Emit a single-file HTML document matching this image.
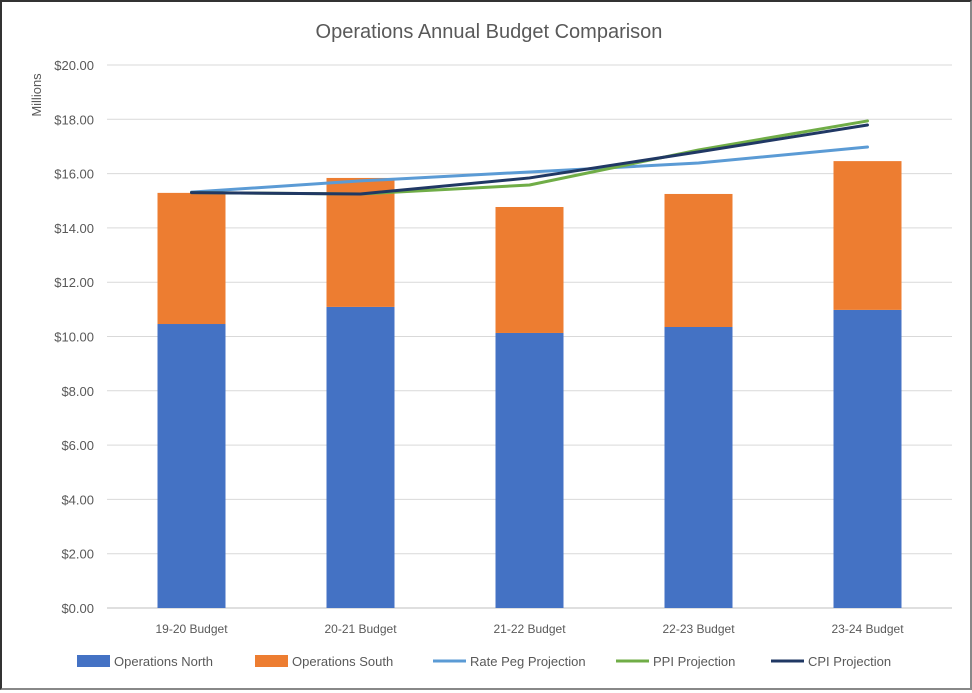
<!DOCTYPE html>
<html><head><meta charset="utf-8">
<style>
body{margin:0;background:#fff;}
#wrap{position:relative;width:972px;height:690px;box-sizing:border-box;border:2px solid #333;border-right-color:#888;border-bottom-color:#888;background:#fff;font-family:"Liberation Sans",sans-serif;}
svg text{font-family:"Liberation Sans",sans-serif;fill:#595959;}
</style></head><body>
<div id="wrap">
<svg id="chart" width="968" height="686" viewBox="2 2 968 686">
<text x="489" y="38" text-anchor="middle" font-size="20">Operations Annual Budget Comparison</text>
<text transform="translate(41,95) rotate(-90)" text-anchor="middle" font-size="13">Millions</text>
<g id="grid"></g><g id="bars"></g><g id="lines"></g><g id="legend"></g>
</svg>
</div>
<script>
const categories=["19-20 Budget","20-21 Budget","21-22 Budget","22-23 Budget","23-24 Budget"];
const north=[10.46,11.09,10.13,10.35,10.98];
const south=[4.83,4.75,4.64,4.90,5.48];
const ratePeg=[15.32,15.73,16.06,16.39,16.98];
const ppi=[15.30,15.25,15.58,16.87,17.94];
const cpi=[15.30,15.25,15.84,16.80,17.79];
const yTicks=[0,2,4,6,8,10,12,14,16,18,20];
const yTickLabels=["$0.00","$2.00","$4.00","$6.00","$8.00","$10.00","$12.00","$14.00","$16.00","$18.00","$20.00"];
const NS="http://www.w3.org/2000/svg";
const x0=107,x1=952,y0=608,y1=65;
const band=(x1-x0)/categories.length;
const xc=i=>x0+band*(i+0.5);
const y=v=>y0-(v/20)*(y0-y1);
function mk(tag,attrs,parent){const e=document.createElementNS(NS,tag);for(const k in attrs)e.setAttribute(k,attrs[k]);parent.appendChild(e);return e;}
const grid=document.getElementById('grid');
yTicks.forEach((t,i)=>{
  const l=mk('line',{x1:x0,x2:x1,y1:y(t),y2:y(t),stroke:i===0?'#bfbfbf':'#d9d9d9','stroke-width':1},grid);
  
  
  const tx=mk('text',{x:94,y:y(t)+5,'text-anchor':'end','font-size':13},grid);
  tx.textContent=yTickLabels[i];
  
  
});
const bars=document.getElementById('bars');
categories.forEach((c,i)=>{
  const w=68;
  const b1=mk('rect',{x:xc(i)-w/2,y:y(north[i]),width:w,height:y(0)-y(north[i]),fill:'#4472c4'},bars);
  
  
  const b2=mk('rect',{x:xc(i)-w/2,y:y(north[i]+south[i]),width:w,height:y(north[i])-y(north[i]+south[i]),fill:'#ed7d31'},bars);
  
  
  const tx=mk('text',{x:xc(i),y:633,'text-anchor':'middle','font-size':12},bars);
  tx.textContent=c;
  
  
});
const lines=document.getElementById('lines');
[[ratePeg,'#5b9bd5','rate-peg-line'],[ppi,'#70ad47','ppi-line'],[cpi,'#203864','cpi-line']].forEach(([d,col,n])=>{
  const p=mk('polyline',{points:d.map((v,i)=>xc(i)+','+y(v)).join(' '),fill:'none',stroke:col,'stroke-width':3,'stroke-linejoin':'round','stroke-linecap':'round'},lines);
  
  
});
const legend=document.getElementById('legend');
const leg=[["Operations North",'#4472c4','box',77],["Operations South",'#ed7d31','box',255],["Rate Peg Projection",'#5b9bd5','line',433],["PPI Projection",'#70ad47','line',616],["CPI Projection",'#203864','line',771]];
leg.forEach(([t,col,kind,lx])=>{
  const g=mk('g',{},legend);
  
  
  if(kind==='box')mk('rect',{x:lx,y:655,width:33,height:12,fill:col},g);
  else mk('line',{x1:lx,x2:lx+33,y1:661,y2:661,stroke:col,'stroke-width':3},g);
  const tx=mk('text',{x:lx+37,y:666,'font-size':13},g);
  tx.textContent=t;
});
</script>
</body></html>
